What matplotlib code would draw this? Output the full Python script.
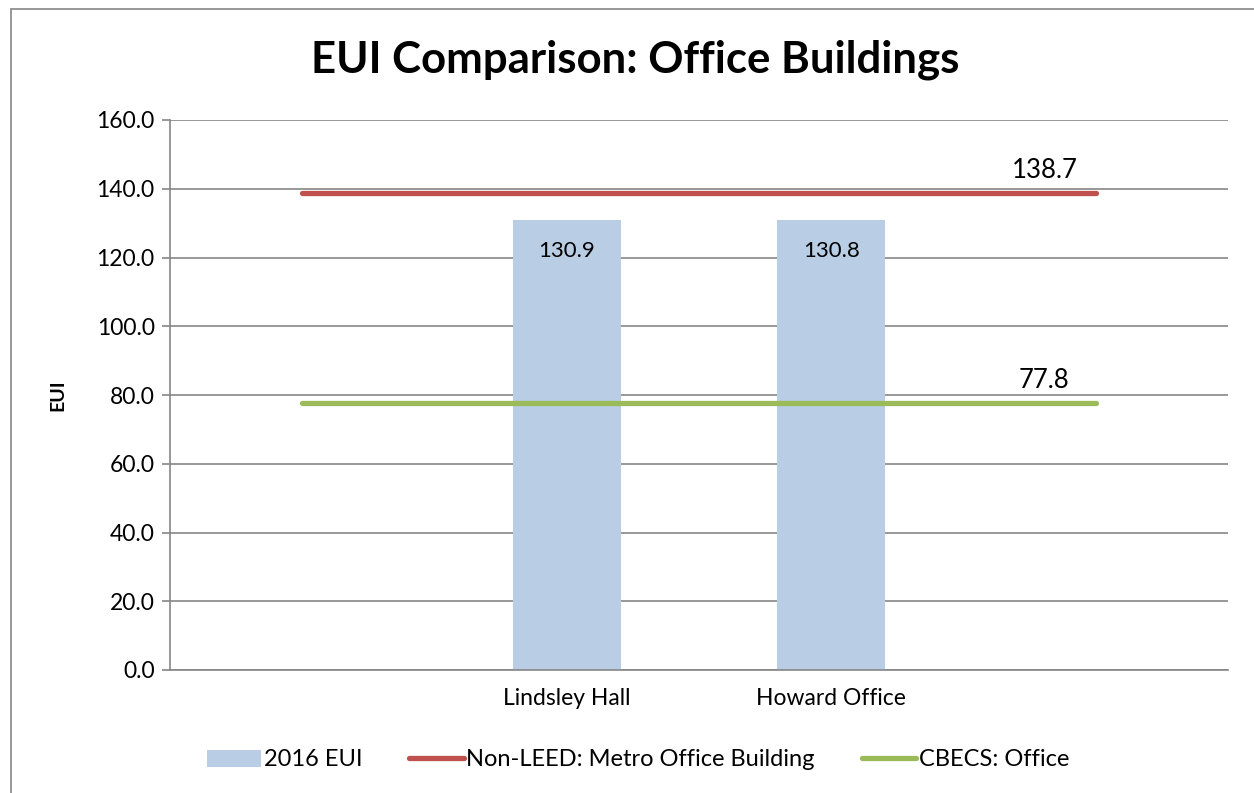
import matplotlib.pyplot as plt
from matplotlib.patches import Rectangle

categories = ["", "Lindsley Hall", "Howard Office", ""]
eui_2016 = [0, 130.9, 130.8, 0]
non_leed_metro = [138.7, 138.7, 138.7, 138.7]
cbecs_office = [77.8, 77.8, 77.8, 77.8]

plt.rcParams['font.family'] = ['Lato', 'DejaVu Sans']

fig = plt.figure(figsize=(12.54, 7.93), dpi=100)
ax = fig.add_axes([170 / 1254, 1 - 670 / 793, 1058 / 1254, 550 / 793])

x = list(range(len(categories)))
bar_idx = [i for i, v in enumerate(eui_2016) if v > 0]
bars = ax.bar([x[i] for i in bar_idx], [eui_2016[i] for i in bar_idx], width=0.41,
              color='#B9CDE5', label='2016 EUI', zorder=2)
red, = ax.plot(x, non_leed_metro, color='#C0504D', lw=3.8, solid_capstyle='round',
               label='Non-LEED: Metro Office Building', zorder=3)
green, = ax.plot(x, cbecs_office, color='#9BBB59', lw=3.8, solid_capstyle='round',
                 label='CBECS: Office', zorder=3)

for b in bars:
    ax.annotate(f"{b.get_height():.1f}", (b.get_x() + b.get_width() / 2, b.get_height()),
                xytext=(0, -15), textcoords='offset points', ha='center', va='top',
                fontsize=16)
for series in (non_leed_metro, cbecs_office):
    ax.annotate(f"{series[-1]:.1f}", (x[-1], series[-1]), xytext=(-37, 7),
                textcoords='offset points', ha='center', va='bottom', fontsize=18.5)

ax.set_xlim(-0.5, len(categories) - 0.5)
ax.set_ylim(0, 160)
ax.set_yticks(range(0, 161, 20))
ax.set_yticklabels([f"{v:.1f}" for v in range(0, 161, 20)], fontsize=16.5)
ax.set_xticks(x)
ax.set_xticklabels(categories, fontsize=16.5)
ax.tick_params(axis='x', length=0, pad=13)
ax.tick_params(axis='y', length=6, color='#868686', width=1.2, pad=5)
ax.yaxis.grid(True, color='#868686', lw=1.2, zorder=0)
ax.set_axisbelow(True)
for s in ('top', 'right'):
    ax.spines[s].set_visible(False)
for s in ('left', 'bottom'):
    ax.spines[s].set_color('#868686')
    ax.spines[s].set_linewidth(1.2)
ax.set_ylabel('EUI', fontsize=14, fontweight='bold', labelpad=22)

fig.text(635 / 1254, 1 - 60 / 793, 'EUI Comparison: Office Buildings', ha='center',
         va='center', fontsize=31.5, fontweight='bold')

fig.legend(handles=[bars, red, green], loc='center',
           bbox_to_anchor=(638 / 1254, 1 - 760 / 793), ncol=3,
           frameon=False, fontsize=17, handlelength=2.3, handletextpad=0.1,
           columnspacing=2.0)

fig.patches.append(Rectangle((11 / 1254, -0.1), 1.2, 1 - 9 / 793 + 0.1,
                             transform=fig.transFigure, fill=False,
                             edgecolor='#868686', lw=1.2))

fig.savefig('out.png', dpi=100)
